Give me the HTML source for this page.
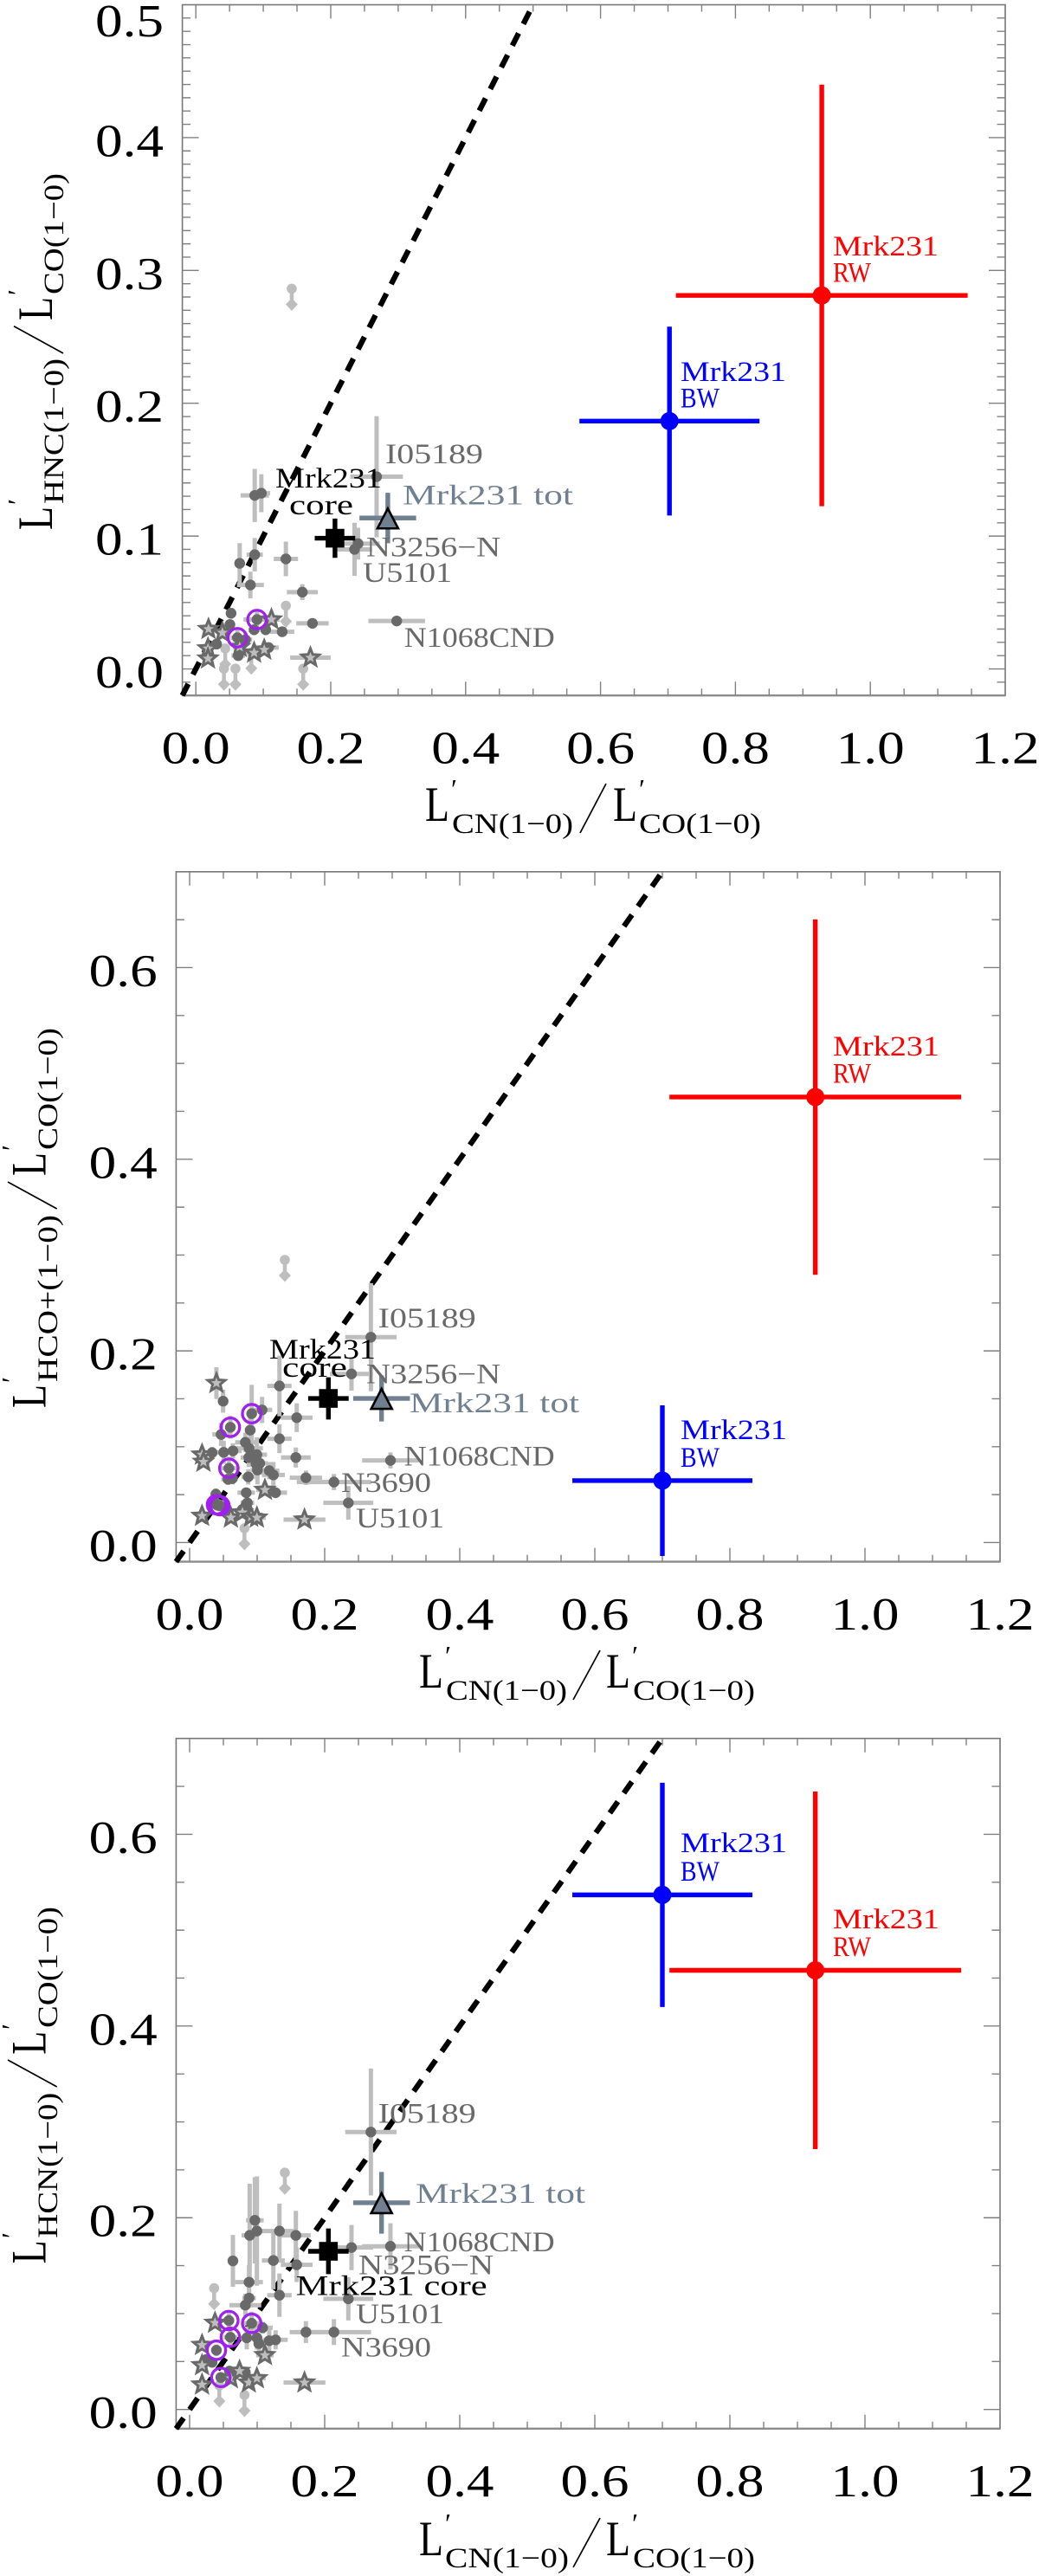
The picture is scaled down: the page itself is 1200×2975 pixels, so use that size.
<!DOCTYPE html>
<html lang="en">
<head>
<meta charset="utf-8">
<title>Mrk231 molecular line ratios</title>
<style>
html,body{margin:0;padding:0;background:#fff;}
svg{display:block;}
text{font-family:"Liberation Serif","DejaVu Serif",serif;}
.tl{font-size:53px;fill:#000;}
.big{font-size:57px;fill:#000;}
.sub{font-size:33px;fill:#000;}
.pr{font-size:32px;fill:#000;}
.an{font-size:33px;}
.g{fill:#696969;}
.k{fill:#000;}
.s{fill:#708090;}
.r{fill:#ff0000;}
.b{fill:#0000ff;}
</style>
</head>
<body>
<svg id="chart" xmlns="http://www.w3.org/2000/svg" width="1200" height="2975" viewBox="0 0 1200 2975">
<rect x="0" y="0" width="1200" height="2975" fill="#fff"/>
<g id="marks"></g>

<!-- Panel 1 axis titles -->
<g>
<text class="big" x="491" y="948" textLength="28" lengthAdjust="spacingAndGlyphs">L</text>
<text class="pr" x="521" y="922">′</text>
<text class="sub" x="522" y="962" textLength="140" lengthAdjust="spacingAndGlyphs">CN(1−0)</text>
<line x1="670" y1="962" x2="700" y2="905" stroke="#000" stroke-width="1.7"/>
<text class="big" x="708" y="948" textLength="28" lengthAdjust="spacingAndGlyphs">L</text>
<text class="pr" x="738" y="922">′</text>
<text class="sub" x="738" y="962" textLength="141" lengthAdjust="spacingAndGlyphs">CO(1−0)</text>
</g>
<g>
<text class="big" transform="translate(60,612) rotate(-90)" textLength="27" lengthAdjust="spacingAndGlyphs">L</text>
<text class="pr" transform="translate(31,583) rotate(-90)">′</text>
<text class="sub" transform="translate(73,582) rotate(-90)" textLength="168" lengthAdjust="spacingAndGlyphs">HNC(1−0)</text>
<line x1="16" y1="376.7" x2="73" y2="408" stroke="#000" stroke-width="1.7"/>
<text class="big" transform="translate(60,370) rotate(-90)" textLength="27" lengthAdjust="spacingAndGlyphs">L</text>
<text class="pr" transform="translate(31,341) rotate(-90)">′</text>
<text class="sub" transform="translate(73,340) rotate(-90)" textLength="140" lengthAdjust="spacingAndGlyphs">CO(1−0)</text>
</g>

<!-- Panel 2 axis titles -->
<g>
<text class="big" x="484" y="1949" textLength="28" lengthAdjust="spacingAndGlyphs">L</text>
<text class="pr" x="514" y="1923">′</text>
<text class="sub" x="515" y="1963" textLength="140" lengthAdjust="spacingAndGlyphs">CN(1−0)</text>
<line x1="662" y1="1963" x2="693" y2="1906" stroke="#000" stroke-width="1.7"/>
<text class="big" x="700" y="1949" textLength="28" lengthAdjust="spacingAndGlyphs">L</text>
<text class="pr" x="730" y="1923">′</text>
<text class="sub" x="731" y="1963" textLength="141" lengthAdjust="spacingAndGlyphs">CO(1−0)</text>
</g>
<g>
<text class="big" transform="translate(52.7,1626) rotate(-90)" textLength="27" lengthAdjust="spacingAndGlyphs">L</text>
<text class="pr" transform="translate(24,1597) rotate(-90)">′</text>
<text class="sub" transform="translate(66,1596) rotate(-90)" textLength="193" lengthAdjust="spacingAndGlyphs">HCO+(1−0)</text>
<line x1="9" y1="1365" x2="65.7" y2="1396" stroke="#000" stroke-width="1.7"/>
<text class="big" transform="translate(52.7,1358) rotate(-90)" textLength="27" lengthAdjust="spacingAndGlyphs">L</text>
<text class="pr" transform="translate(24,1329) rotate(-90)">′</text>
<text class="sub" transform="translate(66,1328) rotate(-90)" textLength="141" lengthAdjust="spacingAndGlyphs">CO(1−0)</text>
</g>

<!-- Panel 3 axis titles -->
<g>
<text class="big" x="484" y="2951" textLength="28" lengthAdjust="spacingAndGlyphs">L</text>
<text class="pr" x="514" y="2925">′</text>
<text class="sub" x="514" y="2965" textLength="143" lengthAdjust="spacingAndGlyphs">CN(1−0)</text>
<line x1="662" y1="2965" x2="693" y2="2908" stroke="#000" stroke-width="1.7"/>
<text class="big" x="700" y="2951" textLength="28" lengthAdjust="spacingAndGlyphs">L</text>
<text class="pr" x="730" y="2925">′</text>
<text class="sub" x="731" y="2965" textLength="141" lengthAdjust="spacingAndGlyphs">CO(1−0)</text>
</g>
<g>
<text class="big" transform="translate(52.7,2614.4) rotate(-90)" textLength="27" lengthAdjust="spacingAndGlyphs">L</text>
<text class="pr" transform="translate(24,2585) rotate(-90)">′</text>
<text class="sub" transform="translate(66,2584.7) rotate(-90)" textLength="168" lengthAdjust="spacingAndGlyphs">HCN(1−0)</text>
<line x1="9" y1="2379" x2="65.7" y2="2410" stroke="#000" stroke-width="1.7"/>
<text class="big" transform="translate(52.7,2372.7) rotate(-90)" textLength="27" lengthAdjust="spacingAndGlyphs">L</text>
<text class="pr" transform="translate(24,2344) rotate(-90)">′</text>
<text class="sub" transform="translate(66,2342) rotate(-90)" textLength="140" lengthAdjust="spacingAndGlyphs">CO(1−0)</text>
</g>

<!-- Panel 1 annotations -->
<g>
<text class="an r" x="962" y="295" textLength="122" lengthAdjust="spacingAndGlyphs">Mrk231</text>
<text class="an r" x="962" y="325.7" textLength="44" lengthAdjust="spacingAndGlyphs">RW</text>
<text class="an b" x="786" y="440" textLength="122" lengthAdjust="spacingAndGlyphs">Mrk231</text>
<text class="an b" x="786" y="470.7" textLength="45" lengthAdjust="spacingAndGlyphs">BW</text>
<text class="an g" x="445" y="535" textLength="113" lengthAdjust="spacingAndGlyphs">I05189</text>
<text class="an s" x="465" y="582.7" textLength="197" lengthAdjust="spacingAndGlyphs">Mrk231 tot</text>
<text class="an g" x="423" y="642.7" textLength="155" lengthAdjust="spacingAndGlyphs">N3256−N</text>
<text class="an g" x="419" y="672" textLength="103" lengthAdjust="spacingAndGlyphs">U5101</text>
<text class="an g" x="466.8" y="747" textLength="174" lengthAdjust="spacingAndGlyphs">N1068CND</text>
<text class="an k" x="318" y="563" textLength="123" lengthAdjust="spacingAndGlyphs">Mrk231</text>
<text class="an k" x="334" y="594" textLength="74" lengthAdjust="spacingAndGlyphs">core</text>
</g>

<!-- Panel 2 annotations -->
<g>
<text class="an r" x="962" y="1219" textLength="123" lengthAdjust="spacingAndGlyphs">Mrk231</text>
<text class="an r" x="962" y="1250.7" textLength="44" lengthAdjust="spacingAndGlyphs">RW</text>
<text class="an b" x="786" y="1662" textLength="123" lengthAdjust="spacingAndGlyphs">Mrk231</text>
<text class="an b" x="786" y="1694" textLength="45" lengthAdjust="spacingAndGlyphs">BW</text>
<text class="an g" x="436.7" y="1533" textLength="113" lengthAdjust="spacingAndGlyphs">I05189</text>
<text class="an k" x="311" y="1569" textLength="123" lengthAdjust="spacingAndGlyphs">Mrk231</text>
<text class="an k" x="326" y="1590" textLength="75" lengthAdjust="spacingAndGlyphs">core</text>
<text class="an g" x="423" y="1597.7" textLength="155" lengthAdjust="spacingAndGlyphs">N3256−N</text>
<text class="an s" x="473" y="1631" textLength="196" lengthAdjust="spacingAndGlyphs">Mrk231 tot</text>
<text class="an g" x="466.7" y="1692.7" textLength="174" lengthAdjust="spacingAndGlyphs">N1068CND</text>
<text class="an g" x="394" y="1723" textLength="104" lengthAdjust="spacingAndGlyphs">N3690</text>
<text class="an g" x="411" y="1764" textLength="102" lengthAdjust="spacingAndGlyphs">U5101</text>
</g>

<!-- Panel 3 annotations -->
<g>
<text class="an r" x="962" y="2227" textLength="123" lengthAdjust="spacingAndGlyphs">Mrk231</text>
<text class="an r" x="962" y="2259" textLength="44" lengthAdjust="spacingAndGlyphs">RW</text>
<text class="an b" x="786" y="2139" textLength="123" lengthAdjust="spacingAndGlyphs">Mrk231</text>
<text class="an b" x="786" y="2172" textLength="45" lengthAdjust="spacingAndGlyphs">BW</text>
<text class="an g" x="436.7" y="2451.7" textLength="113" lengthAdjust="spacingAndGlyphs">I05189</text>
<text class="an s" x="480" y="2544" textLength="196" lengthAdjust="spacingAndGlyphs">Mrk231 tot</text>
<text class="an g" x="466.7" y="2600" textLength="174" lengthAdjust="spacingAndGlyphs">N1068CND</text>
<text class="an g" x="414" y="2626.7" textLength="156" lengthAdjust="spacingAndGlyphs">N3256−N</text>
<text class="an k" x="341.7" y="2650.7" textLength="221" lengthAdjust="spacingAndGlyphs">Mrk231 core</text>
<text class="an g" x="411" y="2683" textLength="102" lengthAdjust="spacingAndGlyphs">U5101</text>
<text class="an g" x="394" y="2721.7" textLength="104" lengthAdjust="spacingAndGlyphs">N3690</text>
</g>
</svg>

<script>
// Shared tick labels
var xTickLabels = ['0.0','0.2','0.4','0.6','0.8','1.0','1.2'];
var p1YTickLabels = ['0.0','0.1','0.2','0.3','0.4','0.5'];
var p2YTickLabels = ['0.0','0.2','0.4','0.6'];
var p3YTickLabels = ['0.0','0.2','0.4','0.6'];

// One-to-one reference line values
var p1LineX = [-0.02, 0.5];
var p1LineY = [-0.02, 0.5];
var p2LineX = [-0.02, 0.7];
var p2LineY = [-0.02, 0.7];
var p3LineX = [-0.02, 0.7];
var p3LineY = [-0.02, 0.7];

// Highlighted sources, in the order below
var featureKinds = ['red','blue','core','tot'];

// ---- Panel 1: HNC vs CN ----
var p1FeatureX = [0.928, 0.7022, 0.2063, 0.2846];
var p1FeatureY = [0.2812, 0.1866, 0.0984, 0.1136];
var p1FeatureXErr = [0.2163, 0.1335, 0.03, 0.042];
var p1FeatureYErr = [0.1587, 0.0711, 0.0148, 0.019];
var p1CircleX = [0.268,0.2405,0.2353,0.0873,0.0971,0.065,0.0873,0.1335,0.0809,0.1579,0.1729,0.2978,0.128,0.0522,0.0505,0.0907,0.0616,0.1036,0.0864,0.1078,0.0629,0.0308,0.0736];
var p1CircleY = [0.1447,0.0943,0.09,0.1306,0.1323,0.0795,0.086,0.0828,0.0632,0.0578,0.0343,0.0361,0.028,0.0419,0.0334,0.0372,0.0235,0.0295,0.0295,0.0161,0.01,0.0187,0.022];
var p1CircleXErr = [0.039,0.032,0.026,0.021,0.013,0.006,0.012,0.018,0.02,0.023,0.024,0.042,0.018,0.005,0.005,0.02,0.01,0.008,0.008,0.015,0.01,0.008,0.01];
var p1CircleYErr = [0.0456,0.012,0.02,0.02,0.0143,0.0152,0.0126,0.013,0.01,0.006,0.002,0.003,0.003,0.004,0.004,0.006,0.006,0.004,0.004,0.003,0.004,0.004,0.005];
var p1StarX = [0.0188,0.0394,0.018,0.018,0.065,0.0864,0.1014,0.1121,0.1699];
var p1StarY = [0.03,0.0273,0.0154,0.0078,0.0165,0.0122,0.0144,0.0372,0.0085];
var p1StarXErr = [0.008,0.008,0.008,0.008,0.01,0.01,0.01,0.012,0.03];
var p1StarYErr = [0.004,0.004,0.004,0.004,0.004,0.004,0.004,0.004,0.002];
var p1LimitX = [0.1422,0.1335,0.0436,0.0417,0.0587,0.1592,0.0822];
var p1LimitY = [0.2862,0.0476,0.0154,0.0002,0.0002,0.0002,0.0122];
var p1PurpleX = [0.0907,0.0616];
var p1PurpleY = [0.0372,0.0235];

// ---- Panel 2: HCO+ vs CN ----
var p2FeatureX = [0.9265, 0.7, 0.2055, 0.2842];
var p2FeatureY = [0.4649, 0.0646, 0.1504, 0.1504];
var p2FeatureXErr = [0.216, 0.1333, 0.03, 0.042];
var p2FeatureYErr = [0.1855, 0.0786, 0.022, 0.024];
var p2CircleX = [0.2684,0.2397,0.133,0.0496,0.1073,0.0919,0.0603,0.1586,0.0897,0.0466,0.133,0.0825,0.088,0.0641,0.0504,0.0333,0.0996,0.0876,0.1573,0.2974,0.0983,0.1038,0.0581,0.1004,0.1179,0.124,0.1722,0.2137,0.0868,0.0568,0.0632,0.1273,0.0838,0.235,0.0855,0.0389,0.0398,0.0423,0.0448,0.0825,0.0782];
var p2CircleY = [0.2143,0.176,0.1634,0.1475,0.1384,0.1345,0.1203,0.1303,0.1173,0.1128,0.1083,0.1046,0.0983,0.0956,0.0941,0.0938,0.0917,0.0887,0.0887,0.0857,0.0821,0.0827,0.0775,0.0757,0.075,0.0706,0.0676,0.0631,0.0685,0.0661,0.0667,0.052,0.052,0.0414,0.0414,0.0505,0.0395,0.039,0.0385,0.033,0.0345];
var p2CircleXErr = [0.038,0.032,0.018,0.005,0.015,0.006,0.008,0.0235,0.008,0.013,0.018,0.015,0.0205,0.013,0.012,0.005,0.015,0.012,0.022,0.042,0.01,0.012,0.012,0.01,0.015,0.017,0.024,0.055,0.01,0.01,0.008,0.017,0.013,0.037,0.01,0.006,0.006,0.006,0.006,0.008,0.008];
var p2CircleYErr = [0.0564,0.0175,0.0316,0.012,0.0136,0.03,0.012,0.015,0.0196,0.012,0.015,0.01,0.008,0.008,0.012,0.006,0.018,0.01,0.0105,0.0084,0.012,0.012,0.012,0.015,0.009,0.0135,0.0075,0.0084,0.008,0.006,0.006,0.004,0.004,0.0175,0.006,0.006,0.006,0.006,0.006,0.006,0.006];
var p2StarX = [0.0397,0.0184,0.0205,0.1115,0.0184,0.0611,0.0782,0.091,0.0996,0.1701];
var p2StarY = [0.1664,0.0917,0.0842,0.0549,0.0278,0.026,0.0314,0.0269,0.026,0.0239];
var p2StarXErr = [0.006,0.008,0.008,0.013,0.008,0.008,0.008,0.008,0.013,0.031];
var p2StarYErr = [0.0166,0.004,0.004,0.006,0.004,0.004,0.004,0.004,0.004,0.002];
var p2LimitX = [0.141,0.0812];
var p2LimitY = [0.295,0.0149];
var p2PurpleX = [0.0919,0.0603,0.0581,0.0398,0.0423,0.0448];
var p2PurpleY = [0.1345,0.1203,0.0775,0.0395,0.039,0.0385];

// ---- Panel 3: HCN vs CN ----
var p3FeatureX = [0.9265, 0.7, 0.2055, 0.2842];
var p3FeatureY = [0.4581, 0.5368, 0.165, 0.2156];
var p3FeatureXErr = [0.216, 0.1333, 0.03, 0.042];
var p3FeatureYErr = [0.1865, 0.117, 0.0238, 0.0322];
var p3CircleX = [0.2684,0.0966,0.0996,0.0889,0.133,0.1573,0.124,0.1586,0.0641,0.088,0.133,0.088,0.0825,0.2397,0.2974,0.235,0.2137,0.1722,0.0581,0.0919,0.0603,0.0397,0.0462,0.1273,0.1179,0.0996,0.1026,0.0846,0.1081,0.0248,0.0333,0.059,0.0825];
var p3CircleY = [0.2894,0.1973,0.1861,0.1816,0.1861,0.1816,0.1554,0.1509,0.155,0.1328,0.1192,0.1162,0.1088,0.1689,0.1702,0.1154,0.0807,0.0807,0.0928,0.0899,0.0753,0.0618,0.0334,0.0726,0.0717,0.0747,0.0687,0.0747,0.0853,0.0521,0.0491,0.0401,0.0386];
var p3CircleXErr = [0.038,0.013,0.012,0.012,0.026,0.022,0.017,0.0235,0.005,0.0205,0.018,0.01,0.0235,0.032,0.042,0.037,0.055,0.024,0.008,0.015,0.01,0.006,0.006,0.018,0.012,0.008,0.008,0.012,0.015,0.005,0.005,0.008,0.006];
var p3CircleYErr = [0.0662,0.045,0.057,0.054,0.0286,0.0256,0.03,0.018,0.027,0.018,0.0226,0.01,0.012,0.0235,0.024,0.0226,0.0135,0.0114,0.008,0.012,0.01,0.006,0.004,0.01,0.012,0.012,0.008,0.012,0.006,0.005,0.005,0.005,0.005];
var p3StarX = [0.0376,0.0184,0.1115,0.0184,0.0184,0.0611,0.0739,0.0876,0.0996,0.1701];
var p3StarY = [0.0903,0.0672,0.0566,0.0461,0.0259,0.0325,0.0401,0.028,0.0325,0.028];
var p3StarXErr = [0.006,0.008,0.013,0.008,0.008,0.008,0.008,0.008,0.013,0.031];
var p3StarYErr = [0.004,0.004,0.006,0.004,0.004,0.004,0.004,0.004,0.004,0.002];
var p3LimitX = [0.141,0.0363,0.044,0.0812];
var p3LimitY = [0.247,0.1265,0.025,0.0151];
var p3PurpleX = [0.0581,0.0919,0.0603,0.0397,0.0462];
var p3PurpleY = [0.0928,0.0899,0.0753,0.0618,0.0334];

var NS = 'http://www.w3.org/2000/svg';
var marksRoot = document.getElementById('marks');

function svgEl(tag, attrs, parent) {
  var el = document.createElementNS(NS, tag);
  for (var k in attrs) { el.setAttribute(k, attrs[k]); }
  parent.appendChild(el);
  return el;
}

function makeScale(dMin, dMax, rMin, rMax) {
  return function (v) { return rMin + (v - dMin) * (rMax - rMin) / (dMax - dMin); };
}

function drawCross(parent, px, py, xv, yv, xe, ye, color, width, name) {
  var h = svgEl('line', {x1:px(xv-xe), x2:px(xv+xe), y1:py(yv), y2:py(yv), stroke:color, 'stroke-width':width}, parent);
  
  
  var v = svgEl('line', {x1:px(xv), x2:px(xv), y1:py(yv-ye), y2:py(yv+ye), stroke:color, 'stroke-width':width}, parent);
  
  
}

function starPoints(cx, cy, R, r) {
  var pts = [];
  for (var i = 0; i < 10; i++) {
    var a = -Math.PI / 2 + i * Math.PI / 5;
    var rad = (i % 2 === 0) ? R : r;
    pts.push((cx + rad * Math.cos(a)).toFixed(2) + ',' + (cy + rad * Math.sin(a)).toFixed(2));
  }
  return pts.join(' ');
}

function drawAxes(g, cfg, px, py, yLabels) {
  var frame = svgEl('rect', {x:cfg.left, y:cfg.top, width:cfg.right-cfg.left, height:cfg.bottom-cfg.top, fill:'none', stroke:'#777', 'stroke-width':1.6}, g);
  
  
  var base = svgEl('line', {x1:cfg.left, x2:cfg.right, y1:cfg.bottom, y2:cfg.bottom, stroke:'#8c8c8c', 'stroke-width':2.4}, g);
  
  
  var i, v, len, t;
  for (i = 0; i <= 24; i++) {
    v = i * 0.05;
    len = (i % 4 === 0) ? 16 : 8;
    t = svgEl('path', {d:'M'+px(v)+' '+cfg.bottom+'V'+(cfg.bottom-len)+'M'+px(v)+' '+cfg.top+'V'+(cfg.top+len), stroke:'#808080', 'stroke-width':1.4, fill:'none'}, g);
    
    
  }
  for (i = cfg.yMinorFrom; i <= cfg.yMinorTo; i++) {
    v = i * cfg.yMinorStep;
    len = (i % cfg.yMajorEvery === 0) ? 19 : 9.5;
    t = svgEl('path', {d:'M'+cfg.left+' '+py(v)+'H'+(cfg.left+len)+'M'+cfg.right+' '+py(v)+'H'+(cfg.right-len), stroke:'#808080', 'stroke-width':1.4, fill:'none'}, g);
    
    
  }
  xTickLabels.forEach(function (lab) {
    var tx = svgEl('text', {x:px(parseFloat(lab))-39.5, y:cfg.bottom+78.3, 'class':'tl', textLength:79, lengthAdjust:'spacingAndGlyphs'}, g);
    tx.textContent = lab;
    
    
  });
  yLabels.forEach(function (lab) {
    // labels are kept fully inside the page at the top edge
    var ty = svgEl('text', {x:cfg.yLabelX, y:Math.max(py(parseFloat(lab))+21.5, 42), 'class':'tl', textLength:79, lengthAdjust:'spacingAndGlyphs'}, g);
    ty.textContent = lab;
    
    
  });
}

function drawPanel(cfg, d) {
  var g = svgEl('g', {}, marksRoot);
  
  
  var px = makeScale(-0.02, 1.2, cfg.left, cfg.right);
  var py = makeScale(cfg.yMin, cfg.yMax, cfg.bottom, cfg.top);

  drawAxes(g, cfg, px, py, d.yLabels);

  var line = svgEl('line', {x1:px(d.lineX[0]), y1:py(d.lineY[0]), x2:px(d.lineX[1]), y2:py(d.lineY[1]), stroke:'#000', 'stroke-width':6.3, 'stroke-dasharray':'16 12.09', 'stroke-dashoffset':1}, g);
  
  

  d.circleX.forEach(function (x, i) {
    drawCross(g, px, py, x, d.circleY[i], d.circleXErr[i], d.circleYErr[i], '#bebebe', 5, 'galaxy-point');
  });
  d.starX.forEach(function (x, i) {
    drawCross(g, px, py, x, d.starY[i], d.starXErr[i], d.starYErr[i], '#bebebe', 5, 'star-point');
  });
  d.limitX.forEach(function (x, i) {
    var cx = px(x), cy = py(d.limitY[i]);
    var stem = svgEl('line', {x1:cx, x2:cx, y1:cy, y2:cy+16, stroke:'#bebebe', 'stroke-width':4.5}, g);
    
    
    var dot = svgEl('circle', {cx:cx, cy:cy, r:5.8, fill:'#bebebe'}, g);
    
    
    var dia = svgEl('polygon', {points:(cx-7)+','+(cy+18)+' '+cx+','+(cy+11)+' '+(cx+7)+','+(cy+18)+' '+cx+','+(cy+25.5), fill:'#bebebe'}, g);
    
    
  });
  d.circleX.forEach(function (x, i) {
    var c = svgEl('circle', {cx:px(x), cy:py(d.circleY[i]), r:6.2, fill:'#696969'}, g);
    
    
  });
  d.starX.forEach(function (x, i) {
    var s = svgEl('polygon', {points:starPoints(px(x), py(d.starY[i]), 10.5, 4.6), fill:'#bebebe', stroke:'#696969', 'stroke-width':3}, g);
    
    
  });
  featureKinds.forEach(function (kind, i) {
    var x = d.featureX[i], y = d.featureY[i];
    var cx = px(x), cy = py(y), m;
    if (kind === 'red' || kind === 'blue') {
      var col = (kind === 'red') ? '#ff0000' : '#0000ff';
      drawCross(g, px, py, x, y, d.featureXErr[i], d.featureYErr[i], col, 5.4, 'mrk231-' + kind + '-wing');
      m = svgEl('circle', {cx:cx, cy:cy, r:10.5, fill:col}, g);
      
      
    } else if (kind === 'core') {
      drawCross(g, px, py, x, y, d.featureXErr[i], d.featureYErr[i], '#000', 5.4, 'mrk231-core');
      m = svgEl('rect', {x:cx-10.8, y:cy-10.8, width:21.6, height:21.6, fill:'#000'}, g);
      
      
    } else {
      drawCross(g, px, py, x, y, d.featureXErr[i], d.featureYErr[i], '#708090', 5.4, 'mrk231-total');
      m = svgEl('polygon', {points:cx+','+(cy-11)+' '+(cx+12)+','+(cy+12)+' '+(cx-12)+','+(cy+12), fill:'#708090', stroke:'#000', 'stroke-width':2.6}, g);
      
      
    }
  });
  d.purpleX.forEach(function (x, i) {
    var r = svgEl('circle', {cx:px(x), cy:py(d.purpleY[i]), r:10.7, fill:'none', stroke:'#a020f0', 'stroke-width':3.3}, g);
    
    
  });
}

drawPanel(
  {name:'panel-hnc-vs-cn', left:210.6, right:1161, top:5.5, bottom:803.2, yMin:-0.02, yMax:0.5,
   yMinorFrom:-1, yMinorTo:49, yMinorStep:0.01, yMajorEvery:10, yLabelX:110},
  {yLabels:p1YTickLabels, lineX:p1LineX, lineY:p1LineY,
   featureX:p1FeatureX, featureY:p1FeatureY, featureXErr:p1FeatureXErr, featureYErr:p1FeatureYErr,
   circleX:p1CircleX, circleY:p1CircleY, circleXErr:p1CircleXErr, circleYErr:p1CircleYErr,
   starX:p1StarX, starY:p1StarY, starXErr:p1StarXErr, starYErr:p1StarYErr,
   limitX:p1LimitX, limitY:p1LimitY, purpleX:p1PurpleX, purpleY:p1PurpleY}
);
drawPanel(
  {name:'panel-hco-vs-cn', left:203.4, right:1155, top:1006.8, bottom:1803.6, yMin:-0.02, yMax:0.7,
   yMinorFrom:0, yMinorTo:13, yMinorStep:0.05, yMajorEvery:4, yLabelX:102.7},
  {yLabels:p2YTickLabels, lineX:p2LineX, lineY:p2LineY,
   featureX:p2FeatureX, featureY:p2FeatureY, featureXErr:p2FeatureXErr, featureYErr:p2FeatureYErr,
   circleX:p2CircleX, circleY:p2CircleY, circleXErr:p2CircleXErr, circleYErr:p2CircleYErr,
   starX:p2StarX, starY:p2StarY, starXErr:p2StarXErr, starYErr:p2StarYErr,
   limitX:p2LimitX, limitY:p2LimitY, purpleX:p2PurpleX, purpleY:p2PurpleY}
);
drawPanel(
  {name:'panel-hcn-vs-cn', left:203.4, right:1155, top:2007.7, bottom:2804.8, yMin:-0.02, yMax:0.7,
   yMinorFrom:0, yMinorTo:13, yMinorStep:0.05, yMajorEvery:4, yLabelX:102.7},
  {yLabels:p3YTickLabels, lineX:p3LineX, lineY:p3LineY,
   featureX:p3FeatureX, featureY:p3FeatureY, featureXErr:p3FeatureXErr, featureYErr:p3FeatureYErr,
   circleX:p3CircleX, circleY:p3CircleY, circleXErr:p3CircleXErr, circleYErr:p3CircleYErr,
   starX:p3StarX, starY:p3StarY, starXErr:p3StarXErr, starYErr:p3StarYErr,
   limitX:p3LimitX, limitY:p3LimitY, purpleX:p3PurpleX, purpleY:p3PurpleY}
);
</script>
</body>
</html>
